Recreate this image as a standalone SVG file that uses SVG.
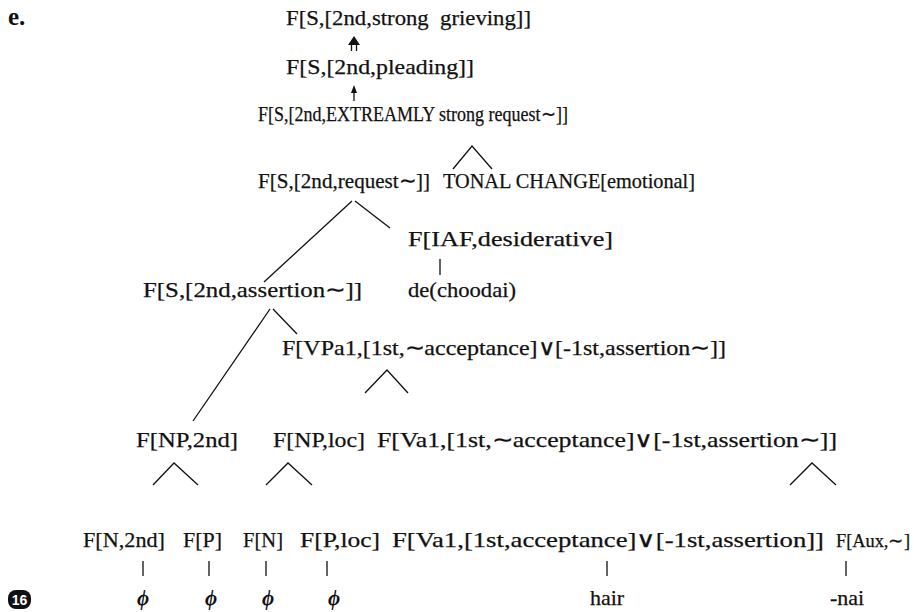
<svg xmlns="http://www.w3.org/2000/svg" width="914" height="612" viewBox="0 0 914 612">
<style>
.t{font-family:"Liberation Serif","Times New Roman",serif;font-size:22px;fill:#111;stroke:#111;stroke-width:0.25;}
.phi{font-family:"Liberation Serif","DejaVu Serif",serif;font-size:21px;font-style:italic;font-weight:bold;fill:#111;}
.ln{stroke:#111;stroke-width:1.3;fill:none;}
</style>
<rect width="914" height="612" fill="#fff"/>
<text x="8" y="25" style="font-family:'Liberation Serif',serif;font-size:25px;font-weight:bold;fill:#111">e.</text>
<g id="n_grieving"><text class="t" x="286" y="25" xml:space="preserve" textLength="245" lengthAdjust="spacingAndGlyphs">F[S,[2nd,strong  grieving]]</text></g>
<g id="n_pleading"><text class="t" x="286" y="74" textLength="188" lengthAdjust="spacingAndGlyphs">F[S,[2nd,pleading]]</text></g>
<g id="n_extreme"><text class="t" x="258" y="121" style="font-size:21px" textLength="310" lengthAdjust="spacingAndGlyphs">F[S,[2nd,EXTREAMLY strong request∼]]</text></g>
<g id="n_request"><text class="t" x="258" y="188" textLength="172" lengthAdjust="spacingAndGlyphs">F[S,[2nd,request∼]]</text></g>
<g id="n_tonal"><text class="t" x="443" y="188" textLength="252" lengthAdjust="spacingAndGlyphs">TONAL CHANGE[emotional]</text></g>
<g id="n_iaf"><text class="t" x="408" y="246" textLength="205" lengthAdjust="spacingAndGlyphs">F[IAF,desiderative]</text></g>
<g id="n_assertion"><text class="t" x="143" y="297" textLength="219" lengthAdjust="spacingAndGlyphs">F[S,[2nd,assertion∼]]</text></g>
<g id="n_choodai"><text class="t" x="408" y="297" textLength="108" lengthAdjust="spacingAndGlyphs">de(choodai)</text></g>
<g id="n_vpa1"><text class="t" x="282" y="355" textLength="444" lengthAdjust="spacingAndGlyphs">F[VPa1,[1st,∼acceptance]∨[-1st,assertion∼]]</text></g>
<g id="n_np2nd"><text class="t" x="136" y="447" textLength="102" lengthAdjust="spacingAndGlyphs">F[NP,2nd]</text></g>
<g id="n_nploc"><text class="t" x="273" y="447" textLength="92" lengthAdjust="spacingAndGlyphs">F[NP,loc]</text></g>
<g id="n_va1a"><text class="t" x="377" y="447" textLength="460" lengthAdjust="spacingAndGlyphs">F[Va1,[1st,∼acceptance]∨[-1st,assertion∼]]</text></g>
<g id="n_n2nd"><text class="t" x="83" y="547" textLength="82" lengthAdjust="spacingAndGlyphs">F[N,2nd]</text></g>
<g id="n_p"><text class="t" x="183" y="547" textLength="39" lengthAdjust="spacingAndGlyphs">F[P]</text></g>
<g id="n_n"><text class="t" x="243" y="547" textLength="40" lengthAdjust="spacingAndGlyphs">F[N]</text></g>
<g id="n_ploc"><text class="t" x="300" y="547" textLength="80" lengthAdjust="spacingAndGlyphs">F[P,loc]</text></g>
<g id="n_va1b"><text class="t" x="392" y="547" textLength="432" lengthAdjust="spacingAndGlyphs">F[Va1,[1st,acceptance]∨[-1st,assertion]]</text></g>
<g id="n_aux"><text class="t" x="836" y="547" style="font-size:19px" textLength="74" lengthAdjust="spacingAndGlyphs">F[Aux,∼]</text></g>
<g id="n_phi1"><text class="phi" x="143" y="605" text-anchor="middle">ϕ</text></g>
<g id="n_phi2"><text class="phi" x="211" y="605" text-anchor="middle">ϕ</text></g>
<g id="n_phi3"><text class="phi" x="268" y="605" text-anchor="middle">ϕ</text></g>
<g id="n_phi4"><text class="phi" x="334" y="605" text-anchor="middle">ϕ</text></g>
<g id="n_hair"><text class="t" x="607" y="605" text-anchor="middle">hair</text></g>
<g id="n_nai"><text class="t" x="847" y="605" text-anchor="middle">-nai</text></g>
<g id="badge"><rect x="8" y="590" width="23" height="19" rx="8" fill="#111"/><text x="19.5" y="605" text-anchor="middle" style="font-family:'Liberation Sans',sans-serif;font-size:14px;font-weight:bold;fill:#fff">16</text></g>
<g id="connectors">
<path class="ln" d="M351.5 51V43M356.5 51V43" stroke-width="2"/>
<path d="M348 45L354 36L360 45Z" fill="#111"/>
<path class="ln" d="M354 101V92"/>
<path d="M351 93L354 85L357 93Z" fill="#111"/>
<polyline class="ln" points="453,169 472,146 492,169"/>
<path class="ln" d="M352 201L264 282M355 201L390 228"/>
<path class="ln" d="M440 259V275"/>
<path class="ln" d="M270 309L193 421M273 309L297 334"/>
<polyline class="ln" points="365,393 387,370 408,393"/>
<polyline class="ln" points="153,485 174,463 198,485"/>
<polyline class="ln" points="266,485 288,463 312,485"/>
<polyline class="ln" points="790,485 812,463 836,485"/>
<path class="ln" d="M143 561V576M209 561V576M266 561V576M327 561V576M607 561V576M846 561V576"/>
</g>
</svg>
